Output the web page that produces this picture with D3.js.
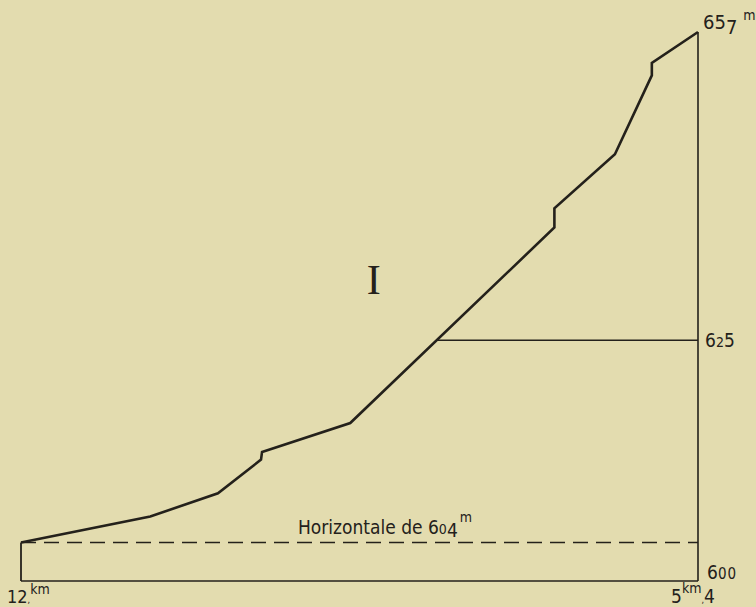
<!DOCTYPE html>
<html>
<head>
<meta charset="utf-8">
<script src="https://cdn.jsdelivr.net/npm/d3@7/dist/d3.min.js"></script>
<style>
  html, body { margin: 0; padding: 0; background: #e3dcaf; }
  svg { display: block; }
</style>
</head>
<body>
<script>
// ---- data ----
const distancesKm = [12, 10.74, 10.08, 9.66, 9.65, 8.79, 6.80, 6.80, 6.21, 5.85, 5.85, 5.4];
const elevationsM = [604, 606.7, 609.1, 612.6, 613.4, 616.4, 636.7, 638.7, 644.3, 652.5, 653.8, 657];
const elevTicks = [600, 625, 657];
const baseElev = 600;
const horizontalElev = 604;
const markElev = 625;
const distStart = 12;
const distEnd = 5.4;
const horizontalLabel = "Horizontale de ";
const sectionLabel = "I";

const W = 756, H = 607;
const ink = "#24211b";
const sans = '"DejaVu Sans Condensed", "Liberation Sans Narrow", "DejaVu Sans", sans-serif';

const svg = d3.select("body").append("svg").attr("width", W).attr("height", H);
svg.append("rect").attr("width", W).attr("height", H).attr("fill", "#e3dcaf");

const x = d3.scaleLinear().domain([distStart, distEnd]).range([21, 698]);
const y = d3.scaleLinear().domain([baseElev, 657]).range([581, 32]);

const pts = distancesKm.map((d, i) => [d, elevationsM[i]]);

function txt(xp, yp, size) {
  return svg.append("text").attr("x", xp).attr("y", yp)
    .style("font-family", sans).style("font-size", size + "px").style("fill", ink);
}

// bottom base line
svg.append("line")
  .attr("x1", x(distStart)).attr("x2", x(distEnd))
  .attr("y1", y(baseElev)).attr("y2", y(baseElev))
  .attr("stroke", ink).attr("stroke-width", 1.6);

// left vertical
svg.append("line")
  .attr("x1", x(distStart)).attr("x2", x(distStart))
  .attr("y1", y(baseElev)).attr("y2", y(elevationsM[0]))
  .attr("stroke", ink).attr("stroke-width", 1.8);

// right vertical axis
const axis = d3.axisRight(y).tickValues(elevTicks).tickSize(0).tickFormat(() => "");
const ax = svg.append("g").attr("transform", `translate(${x(distEnd)},0)`).call(axis);
ax.select(".domain").attr("stroke", ink).attr("stroke-width", 1.6)
  .attr("d", `M0,${y(baseElev)}V${y(elevationsM[elevationsM.length-1])}`);

// dashed horizontal 604
svg.append("line")
  .attr("x1", x(distStart)).attr("x2", x(distEnd))
  .attr("y1", y(horizontalElev)).attr("y2", y(horizontalElev))
  .attr("stroke", ink).attr("stroke-width", 1.5)
  .attr("stroke-dasharray", "15,8");

// horizontal 625 from profile to axis
function distAtElev(e) {
  for (let i = 0; i < pts.length - 1; i++) {
    const [d0, e0] = pts[i], [d1, e1] = pts[i + 1];
    if (e >= e0 && e <= e1 && e1 !== e0) return d0 + (d1 - d0) * (e - e0) / (e1 - e0);
  }
  return distEnd;
}
svg.append("line")
  .attr("x1", x(distAtElev(markElev))).attr("x2", x(distEnd))
  .attr("y1", y(markElev)).attr("y2", y(markElev))
  .attr("stroke", ink).attr("stroke-width", 1.5);

// profile
const line = d3.line().x(d => x(d[0])).y(d => y(d[1]));
svg.append("path").datum(pts).attr("d", line)
  .attr("fill", "none").attr("stroke", ink).attr("stroke-width", 2.6)
  .attr("stroke-linejoin", "miter");

// elevation labels
const lx = x(distEnd);
const t657 = txt(lx + 5, y(657) - 3, 20);
t657.append("tspan").text("65");
t657.append("tspan").attr("dy", 5).text("7");
t657.append("tspan").attr("dy", -14).attr("dx", 6).style("font-size", "14px").text("m");

const t625 = txt(lx + 7, y(625) + 7, 19);
t625.append("tspan").text("6");
t625.append("tspan").style("font-size", "14px").text("2");
t625.append("tspan").text("5");

const t600 = txt(lx + 9, y(600) - 2, 19);
t600.append("tspan").text("6");
t600.append("tspan").style("font-size", "15px").style("letter-spacing", "1px").text("00");

// distance labels
const t12 = txt(7, H - 4, 18);
t12.append("tspan").text("12");
t12.append("tspan").style("font-size", "9px").text(",");
t12.append("tspan").attr("dy", -9).style("font-size", "14px").text("km");

const t5 = txt(x(distEnd) - 27, H - 4, 19);
t5.append("tspan").text("5");
t5.append("tspan").attr("dy", -10).style("font-size", "14px").text("km");
t5.append("tspan").attr("dy", 10).style("font-size", "9px").text(",");
t5.append("tspan").text("4");

// horizontal label
const th = txt(x(9.3), y(horizontalElev) - 8, 19);
th.append("tspan").text(horizontalLabel + "6");
th.append("tspan").style("font-size", "14px").text("0");
th.append("tspan").attr("dy", 3).text("4");
th.append("tspan").attr("dy", -15).attr("dx", 2).style("font-size", "14px").text("m");

// section numeral
svg.append("text").attr("x", x(8.56)).attr("y", y(629.8))
  .style("font-family", '"Liberation Serif", "DejaVu Serif", serif')
  .style("font-size", "42px").style("fill", ink)
  .attr("text-anchor", "middle").text(sectionLabel);
</script>
</body>
</html>
